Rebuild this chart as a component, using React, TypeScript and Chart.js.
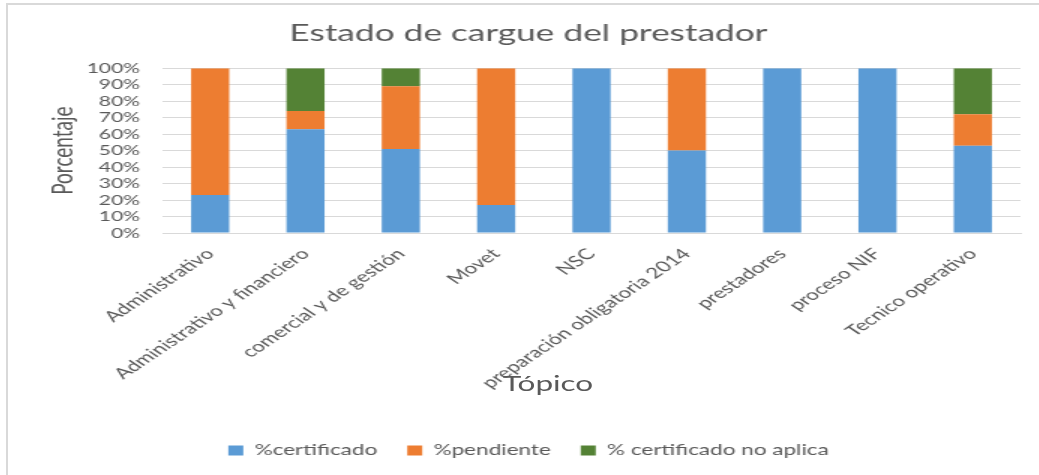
import React, { useEffect, useRef } from 'react';
import { Chart, registerables } from 'chart.js';

Chart.register(...registerables);

const categories = [
  'Administrativo',
  'Administrativo y financiero',
  'comercial y de gestión',
  'Movet',
  'NSC',
  'preparación obligatoria 2014',
  'prestadores',
  'proceso NIF',
  'Tecnico operativo',
];
const certificado = [23, 63, 51, 17, 100, 50, 100, 100, 53];
const pendiente = [77, 11, 38, 83, 0, 50, 0, 0, 19];
const noAplica = [0, 26, 11, 0, 0, 0, 0, 0, 28];
const seriesNames = ['%certificado', '%pendiente', '% certificado no aplica'];
const seriesColors = ['#5B9BD5', '#ED7D31', '#548235'];
const chartTitle = 'Estado de cargue del prestador';
const yTitle = 'Porcentaje';
const xTitle = 'Tópico';

const FONT = 'Lato, "Open Sans", sans-serif';
const TEXT = '#595959';
const GRID = '#d9d9d9';
const STRETCH = 1.5;
const W = 687;
const H = 470;

export default function App() {
  const ref = useRef<HTMLCanvasElement | null>(null);

  useEffect(() => {
    if (!ref.current) return;
    const chart = new Chart(ref.current, {
      type: 'bar',
      data: {
        labels: categories,
        datasets: [certificado, pendiente, noAplica].map((d, i) => ({
          label: seriesNames[i],
          data: d,
          backgroundColor: seriesColors[i],
          borderWidth: 0,
          categoryPercentage: 1,
          barPercentage: 0.4,
        })),
      },
      options: {
        responsive: false,
        animation: false,
        devicePixelRatio: 1,
        layout: { padding: { top: 0, left: 19, right: 12, bottom: 7 } },
        plugins: {
          title: {
            display: true,
            text: chartTitle,
            color: TEXT,
            font: { family: FONT, size: 23.5, weight: 'normal' },
            padding: { top: 14, bottom: 21 },
          },
          legend: {
            position: 'bottom',
            labels: {
              color: TEXT,
              font: { family: FONT, size: 15 },
              boxWidth: 10,
              boxHeight: 10,
              padding: 20,
            },
          },
          tooltip: { enabled: false },
        },
        scales: {
          x: {
            stacked: true,
            grid: { display: false },
            border: { display: true, color: GRID },
            ticks: {
              color: TEXT,
              font: { family: FONT, size: 15 },
              minRotation: 45,
              maxRotation: 45,
              autoSkip: false,
              padding: 4,
            },
            afterFit: (s: any) => {
              s.height = 190;
            },
          },
          y: {
            stacked: true,
            min: 0,
            max: 100,
            grid: { color: GRID, drawTicks: false },
            border: { display: false },
            ticks: {
              stepSize: 10,
              autoSkip: false,
              color: TEXT,
              font: { family: FONT, size: 14 },
              padding: 15,
              callback: (v: any) => v + '%',
            },
            title: {
              display: true,
              text: yTitle,
              color: TEXT,
              font: { family: FONT, size: 19 },
              padding: { top: 6, bottom: 0 },
            },
            afterFit: (s: any) => {
              s.width = 84;
            },
          },
        },
      },
    });
    return () => chart.destroy();
  }, []);

  return (
    <div
      style={{
        position: 'absolute',
        left: 0,
        top: 0,
        width: 1039,
        height: 475,
        background: '#fff',
        overflow: 'hidden',
      }}
    >
      <div
        style={{
          position: 'absolute',
          left: 6,
          top: 3,
          right: 0,
          bottom: 0,
          borderTop: `2px solid ${GRID}`,
          borderLeft: `2px solid ${GRID}`,
        }}
      />
      <div
        style={{
          position: 'absolute',
          left: 8,
          top: 5,
          width: W,
          height: H,
          transform: `scaleX(${STRETCH})`,
          transformOrigin: '0 0',
        }}
      >
        <canvas ref={ref} width={W} height={H} />
        <div
          style={{
            position: 'absolute',
            left: 260,
            width: 200,
            top: 365,
            textAlign: 'center',
            fontFamily: FONT,
            fontSize: 21,
            lineHeight: '26px',
            color: TEXT,
          }}
        >
          {xTitle}
        </div>
      </div>
    </div>
  );
}
